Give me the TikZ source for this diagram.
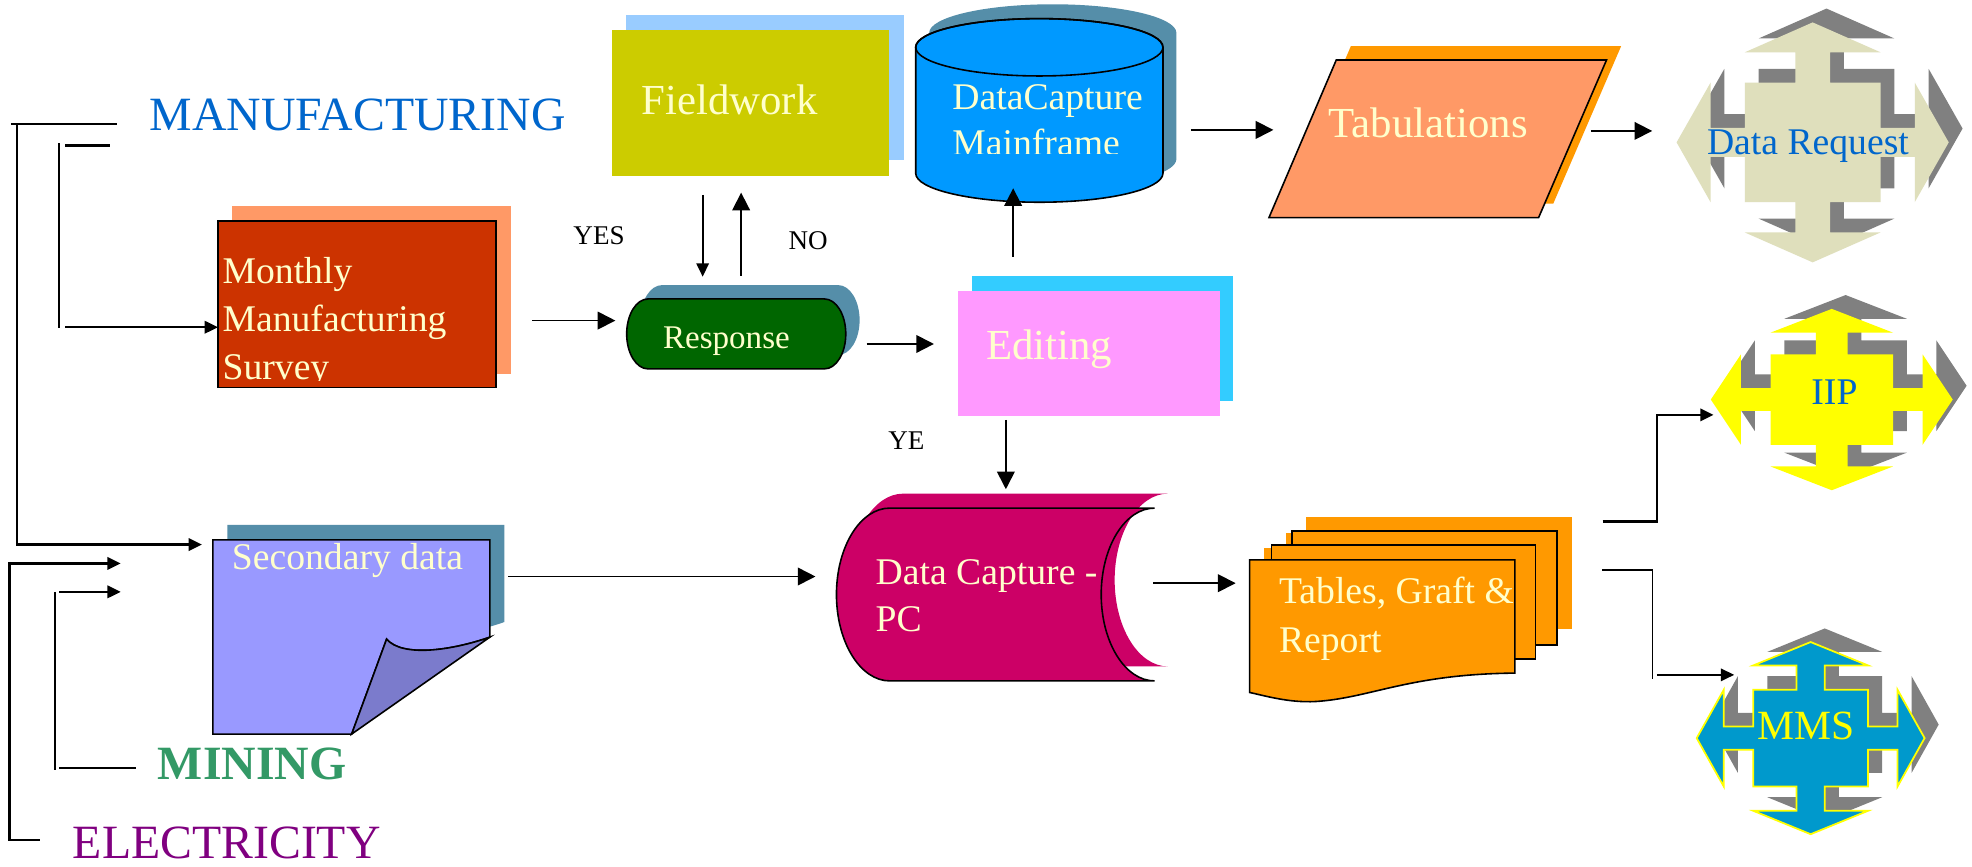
\documentclass[tikz,border=0pt]{standalone}
\usepackage{fontspec}
\setmainfont{Liberation Serif}
\usetikzlibrary{arrows.meta,fit}
\definecolor{manuC}{HTML}{0066CC}
\definecolor{minC}{HTML}{339966}
\definecolor{elecC}{HTML}{800080}
\definecolor{cream}{HTML}{FFFFCC}
\definecolor{surveyC}{HTML}{CC3300}
\definecolor{salmon}{HTML}{FF9966}
\definecolor{fieldC}{HTML}{CCCC00}
\definecolor{fieldSh}{HTML}{99CCFF}
\definecolor{cylC}{HTML}{0099FF}
\definecolor{tealSh}{HTML}{558EA9}
\definecolor{respC}{HTML}{006600}
\definecolor{editC}{HTML}{FF99FF}
\definecolor{editSh}{HTML}{33CCFF}
\definecolor{dcpcC}{HTML}{CC0066}
\definecolor{orangeC}{HTML}{FF9900}
\definecolor{drC}{HTML}{DFDFBC}
\definecolor{grayC}{HTML}{808080}
\definecolor{iipC}{HTML}{FFFF00}
\definecolor{mmsC}{HTML}{0099CC}
\definecolor{pageC}{HTML}{9999FF}
\definecolor{foldC}{HTML}{7B7BCC}
\tikzset{
 qarrow/.style n args={8}{insert path={
  (0,{-(#2+#4+#5)}) -- ({#1},{-(#2+#4)}) -- ({#3},{-(#2+#4)}) -- ({#3},{-(#2)}) -- ({#1},{-(#2)})
  -- ({#1},{-(#6)}) -- ({#1+#7},{-(#6)}) -- ({#1+#7},{-(#2)}) -- ({#1+#7+#8},0)
  -- ({#1+#7},{#2}) -- ({#1+#7},{#6}) -- ({#1},{#6}) -- ({#1},{#2}) -- ({#3},{#2})
  -- ({#3},{#2+#4}) -- ({#1},{#2+#4}) -- (0,{#2+#4+#5}) -- ({-(#1)},{#2+#4})
  -- ({-(#3)},{#2+#4}) -- ({-(#3)},{#2}) -- ({-(#1)},{#2}) -- ({-(#1)},{#6})
  -- ({-(#1+#7)},{#6}) -- ({-(#1+#7)},{#2}) -- ({-(#1+#7+#8)},0)
  -- ({-(#1+#7)},{-(#2)}) -- ({-(#1+#7)},{-(#6)}) -- ({-(#1)},{-(#6)})
  -- ({-(#1)},{-(#2)}) -- ({-(#3)},{-(#2)}) -- ({-(#3)},{-(#2+#4)})
  -- ({-(#1)},{-(#2+#4)}) -- cycle}},
 cylpath/.style={insert path={(728.1,37.6) -- (728.1,137.8)
   arc[start angle=180,end angle=0,x radius=98.3,y radius=23] -- (924.7,37.6)
   arc[start angle=0,end angle=-180,x radius=98.3,y radius=22.8] -- cycle}},
 dcpcpath/.style={insert path={(707.5,404) -- (918,404)
   arc[start angle=-90,end angle=-270,x radius=42.4,y radius=68.7] -- (707.5,541.4)
   arc[start angle=90,end angle=270,x radius=42.4,y radius=68.7] -- cycle}},
 pagepath/.style={insert path={(169.3,429.3) -- (389.5,429.3) -- (389.5,506.6)
   .. controls (360,517) and (320,523) .. (307.4,508.2) -- (279.6,583.7) -- (169.3,583.7) -- cycle}},
 resppath/.style={insert path={(515.3,237.7) -- (655.5,237.7)
   arc[start angle=-90,end angle=90,x radius=17,y radius=27.8] -- (515.3,293.3)
   arc[start angle=90,end angle=270,x radius=17,y radius=27.8] -- cycle}},
 tabpath/.style={insert path={(1062.5,47.7) -- (1277.4,47.7) -- (1223.4,173) -- (1009,173) -- cycle}},
 lbl/.style={inner sep=0pt, outer sep=0pt, anchor=base west},
 f27/.style={font=\fontsize{27}{32}\selectfont},
 f24/.style={font=\fontsize{24.2}{29}\selectfont},
 f21/.style={font=\fontsize{21.3}{27}\selectfont},
 f19/.style={font=\fontsize{18.7}{22}\selectfont},
 f15/.style={font=\fontsize{15.3}{18}\selectfont},
 brk/.style={line width=1.4pt},
 bigarr/.style={line width=1pt, -{Triangle[length=10pt,width=10pt]}},
 smallarr/.style={line width=1.3pt, -{Triangle[length=7.5pt,width=7pt]}},
 box/.style={inner sep=0pt, outer sep=0pt, draw=none}
}
\begin{document}
\begin{tikzpicture}[x=0.025cm,y=-0.025cm]
\useasboundingbox (0,0) rectangle (1568,688.6);
\fill[white] (0,0) rectangle (1568,688.6);

% ---------- Monthly Manufacturing Survey ----------
\node[box, fill=salmon, fit={(184.4,163.8) (406,297.3)}] (monthlySh) {};
\node[box, fill=surveyC, draw=black, line width=0.7pt, fit={(173.3,175.7) (394.3,308.2)}] (monthly) {};
\node[lbl, f21, text=cream] (tMonthly) at (177,225.8) {Monthly};
\node[lbl, f21, text=cream] (tManuf) at (177,263.6) {Manufacturing};
\begin{scope}
 \clip (170,270) rectangle (400,302.6);
 \node[lbl, f21, text=cream] (tSurvey) at (177,301.5) {Survey};
\end{scope}

% ---------- Fieldwork ----------
\node[box, fill=fieldSh, fit={(497.6,11.9) (719,127.5)}] (fieldSh) {};
\node[box, fill=fieldC, fit={(486.3,23.8) (707.2,139.6)}] (field) {};
\node[lbl, f24, text=cream] (tField) at (510.2,91.4) {Fieldwork};

% ---------- Cylinder ----------
\fill[tealSh, shift={(10.7,-11.4)}, cylpath];
\filldraw[fill=cylC, draw=black, line width=0.9pt, cylpath];
\draw[line width=0.9pt] (826.4,37.6) ellipse [x radius=98.3, y radius=22.8];
\node[lbl, f21, text=cream] (tDC) at (757.3,86.9) {DataCapture};
\begin{scope}
 \clip (730,95) rectangle (925,122.2);
 \node[lbl, f21, text=cream] (tMain) at (757.3,123.5) {Mainframe};
\end{scope}

% ---------- Tabulations ----------
\fill[orangeC, shift={(11.6,-11)}, tabpath];
\filldraw[fill=salmon, draw=black, line width=0.9pt, tabpath];
\node[lbl, f24, text=cream] (tTab) at (1056.5,109.4) {Tabulations};

% ---------- Data Request ----------
\fill[grayC, shift={(1452.3,102.2)}, qarrow={54}{47.5}{13.8}{24.1}{23.8}{11.5}{27.2}{27}];
\fill[drC, shift={(1441.3,113.2)}, qarrow={54}{47.5}{13.8}{24.1}{23.8}{11.5}{27.2}{27}];
\node[lbl, f21, text=manuC] (tDR) at (1357.3,122.7) {Data Request};

% ---------- Response ----------
\fill[tealSh, shift={(11,-11)}, resppath];
\filldraw[fill=respC, draw=black, line width=0.9pt, resppath];
\node[lbl, f19, text=cream] (tResp) at (527.2,276.9) {Response};

% ---------- Editing ----------
\node[box, fill=editSh, fit={(772.5,219.4) (980.7,318.5)}] (editSh) {};
\node[box, fill=editC, fit={(761.8,231.3) (970,330.4)}] (edit) {};
\node[lbl, f24, text=cream] (tEdit) at (784.2,286.2) {Editing};

% ---------- IIP ----------
\fill[grayC, shift={(1467.5,306.7)}, qarrow={48.7}{36}{12.6}{17.2}{18.9}{9}{23.5}{24}];
\fill[iipC, shift={(1456.5,317.7)}, qarrow={48.7}{36}{12.6}{17.2}{18.9}{9}{23.5}{24}];
\node[lbl, f21, text=manuC] (tIIP) at (1440.3,322) {IIP};

% ---------- Secondary data ----------
\fill[tealSh, shift={(11.5,-12)}, pagepath];
\filldraw[fill=pageC, draw=black, line width=0.9pt, pagepath];
\filldraw[fill=foldC, draw=black, line width=0.9pt] (307.4,508.2) .. controls (320,523) and (360,517) .. (389.5,506.6) -- (279.6,583.7) -- cycle;
\node[lbl, f21, text=cream] (tSec) at (184.4,453.1) {Secondary data};

% ---------- Data Capture - PC ----------
\fill[dcpcC, shift={(10.7,-11.5)}, dcpcpath];
\filldraw[fill=dcpcC, draw=black, line width=0.9pt, dcpcpath];
\node[lbl, f21, text=cream] (tDCPC1) at (696.3,465) {Data Capture -};
\node[lbl, f21, text=cream] (tDCPC2) at (696.3,502.1) {PC};

% ---------- Tables, Graft & Report ----------
\fill[orangeC] (1038.7,410.7) rectangle (1250,500.3);
\fill[orangeC] (1022.3,424) rectangle (1027.3,433);
\node[box, fill=orangeC, draw=black, line width=0.9pt, fit={(1027.3,422.1) (1238,512.7)}] (doc3) {};
\fill[orangeC] (1004.8,436) rectangle (1010.9,445);
\node[box, fill=orangeC, draw=black, line width=0.9pt, fit={(1010.9,433.2) (1221,523.8)}] (doc2) {};
\filldraw[fill=orangeC, draw=black, line width=0.9pt] (993.6,445.2) -- (1204.5,445.2) -- (1204.5,535.2)
  .. controls (1120,536) and (1090,555) .. (1046,557.8) .. controls (1025,559) and (1005,553) .. (993.6,550.6) -- cycle;
\node[lbl, f21, text=cream] (tTables1) at (1017,480.1) {Tables, Graft \&};
\node[lbl, f21, text=cream] (tTables2) at (1017,518.8) {Report};

% ---------- MMS ----------
\fill[grayC, shift={(1450.9,576.1)}, qarrow={45.6}{38.4}{11.2}{19.4}{18.6}{9.3}{23.5}{21.5}];
\filldraw[fill=mmsC, draw=iipC, line width=1pt, shift={(1439.7,586.9)}, qarrow={45.6}{38.4}{11.2}{19.4}{18.6}{9.3}{23.5}{21.5}];
\node[lbl, font=\fontsize{23.5}{28}\selectfont, text=iipC] (tMMS) at (1397.5,588.2) {MMS};

% ---------- side labels ----------
\node[lbl, f27, text=manuC] (tManu) at (119.2,104.1) {MANUFACTURING};
\node[lbl, font=\fontsize{27}{32}\selectfont\bfseries, text=minC] (tMining) at (125.6,620) {MINING};
\node[lbl, f27, text=elecC] (tElec) at (58,682.3) {ELECTRICITY};
\node[lbl, f15] (tYes) at (456,194.8) {YES};
\node[lbl, f15] (tNo) at (627,198.7) {NO};
\node[lbl, f15] (tYe) at (706.4,357.7) {YE};

% ---------- connectors ----------
\coordinate (mA) at (8.7,98.8);   \coordinate (mB) at (93,98.8);
\coordinate (mC) at (13.5,98.8);  \coordinate (mD) at (13.5,433);  \coordinate (mE) at (160.6,433);
\draw[brk] (mA) -- (mB);
\draw[smallarr, line width=1.4pt] (mC) -- (mD) -- (mE);

\coordinate (nA) at (51.7,115.8); \coordinate (nB) at (87.4,115.8);
\coordinate (nC) at (47,114);     \coordinate (nD) at (47,260.7);  \coordinate (nE) at (51.7,260.2);
\draw[brk] (nA) -- (nB);
\draw[brk] (nC) -- (nD);
\draw[smallarr] (nE) -- (nE -| monthly.west);

\coordinate (eA) at (7.4,446.7); \coordinate (eB) at (7.4,667.7); \coordinate (eC) at (31.8,667.7);
\coordinate (eD) at (7.4,448);   \coordinate (eE) at (96,448);
\draw[brk] (eA) -- (eB) -- (eC);
\draw[smallarr] (eD) -- (eE);

\coordinate (gA) at (43.7,470.6); \coordinate (gB) at (43.7,612);
\coordinate (gC) at (47,610.5);   \coordinate (gD) at (108,610.5);
\coordinate (gE) at (47,470.6);   \coordinate (gF) at (96,470.6);
\draw[line width=1pt] (gA) -- (gB);
\draw[brk] (gC) -- (gD);
\draw[smallarr] (gE) -- (gF);

\coordinate (r1) at (423.3,254.9);  \coordinate (r2) at (489.3,254.9);
\draw[bigarr] (r1) -- (r2);
\coordinate (y1) at (558.7,155);    \coordinate (y2) at (558.7,220);
\draw[smallarr, line width=1pt] (y1) -- (y2);
\coordinate (n1) at (589.3,219.4);  \coordinate (n2) at (589.3,153.2);
\draw[bigarr] (n1) -- (n2);
\coordinate (e1) at (689,273.5);    \coordinate (e2) at (742.6,273.5);
\draw[bigarr] (e1) -- (e2);
\coordinate (c1) at (805.6,204);    \coordinate (c2) at (805.6,149.7);
\draw[bigarr] (c1) -- (c2);
\coordinate (t1) at (946.8,103.3);  \coordinate (t2) at (1012.5,103.3);
\draw[bigarr] (t1) -- (t2);
\coordinate (d1) at (1265,104.1);   \coordinate (d2) at (1313.7,104.1);
\draw[bigarr] (d1) -- (d2);
\coordinate (p1) at (799.8,333.9);  \coordinate (p2) at (799.8,389);
\draw[bigarr] (p1) -- (p2);
\coordinate (s1) at (404,458.4);    \coordinate (s2) at (648.4,458.4);
\draw[bigarr] (s1) -- (s2);
\coordinate (q1) at (916.8,463.7);  \coordinate (q2) at (982.5,463.7);
\draw[bigarr] (q1) -- (q2);

\coordinate (i1) at (1274.2,414.7); \coordinate (i2) at (1317.5,414.7);
\coordinate (i3) at (1317.5,329.9); \coordinate (i4) at (1362.5,329.9);
\draw[smallarr, line width=1.4pt] (i1) -- (i2) -- (i3) -- (i4);

\coordinate (k1) at (1274,453.1);   \coordinate (k2) at (1313.8,453.1);
\coordinate (k3) at (1313.8,540);   \coordinate (k4) at (1317.5,536.6); \coordinate (k5) at (1378.9,536.6);
\draw[line width=0.8pt] (k1) -- (k2) -- (k3);
\draw[smallarr, line width=1.1pt] (k4) -- (k5);
\end{tikzpicture}
\end{document}
